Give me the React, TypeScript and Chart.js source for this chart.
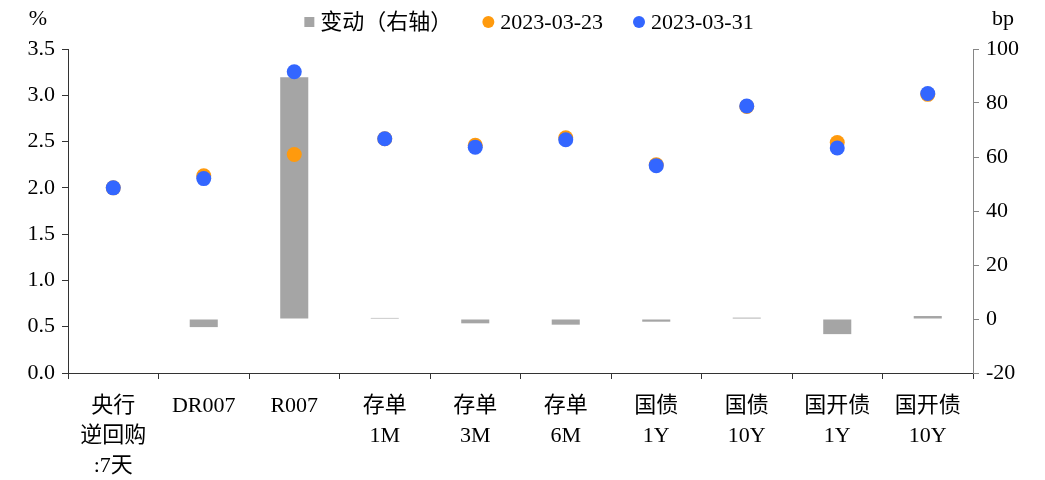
import React, { useEffect, useRef } from "react";
import { Chart, registerables } from "chart.js";

Chart.register(...registerables);

const categories: string[][] = [
  ["央行", "逆回购", ":7天"],
  ["DR007"],
  ["R007"],
  ["存单", "1M"],
  ["存单", "3M"],
  ["存单", "6M"],
  ["国债", "1Y"],
  ["国债", "10Y"],
  ["国开债", "1Y"],
  ["国开债", "10Y"],
];
const changeBp: number[] = [0, -3, 89.5, 0.4, -1.6, -2.1, -1, 0.5, -5.6, 1.1];
const rate0323: number[] = [2.0, 2.13, 2.36, 2.53, 2.46, 2.54, 2.25, 2.88, 2.49, 3.01];
const rate0331: number[] = [2.0, 2.1, 3.255, 2.53, 2.44, 2.52, 2.24, 2.885, 2.43, 3.02];
const leftTicks: number[] = [0, 0.5, 1, 1.5, 2, 2.5, 3, 3.5];
const rightTicks: number[] = [-20, 0, 20, 40, 60, 80, 100];

const FONT = "'Liberation Serif', 'Noto Sans CJK SC', serif";
const FS = 22;

const unitTitles = {
  id: "unitTitles",
  afterDraw(chart: any) {
    const ctx = chart.ctx;
    const y = chart.scales.y;
    const y1 = chart.scales.y1;
    ctx.save();
    ctx.fillStyle = "#000";
    ctx.font = `${FS}px ${FONT}`;
    ctx.textAlign = "center";
    ctx.textBaseline = "middle";
    ctx.fillText("%", y.right - 30, 19);
    ctx.fillText("bp", y1.left + 30, 19);
    ctx.restore();
  },
};

const topLegend = {
  id: "topLegend",
  afterDraw(chart: any) {
    const ctx = chart.ctx;
    const ds = chart.data.datasets;
    ctx.save();
    ctx.font = `${FS}px ${FONT}`;
    ctx.textBaseline = "middle";
    ctx.textAlign = "left";
    const items = ds.map((d: any) => {
      const isBar = d.type === "bar";
      const mw = isBar ? 10 : 12;
      const tw = ctx.measureText(d.label).width;
      return { d, isBar, mw, tw, w: mw + 6 + tw };
    });
    const gap = 30;
    const total = items.reduce((s: number, it: any) => s + it.w, 0) + gap * (items.length - 1);
    let x = 529 - total / 2;
    const cy = 22;
    for (const it of items) {
      ctx.fillStyle = it.d.backgroundColor;
      if (it.isBar) {
        ctx.fillRect(x, cy - 5, 10, 10);
      } else {
        ctx.beginPath();
        ctx.arc(x + 6, cy, 6, 0, Math.PI * 2);
        ctx.fill();
      }
      ctx.fillStyle = "#000";
      ctx.fillText(it.d.label, x + it.mw + 6, cy + 1);
      x += it.w + gap;
    }
    ctx.restore();
  },
};

export default function App() {
  const ref = useRef<HTMLCanvasElement>(null);
  useEffect(() => {
    document.body.style.margin = "0";
    const chart = new Chart(ref.current!, {
      type: "bar",
      data: {
        labels: categories,
        datasets: [
          {
            type: "bar",
            label: "变动（右轴）",
            data: changeBp,
            backgroundColor: "#A5A5A5",
            yAxisID: "y1",
            barPercentage: 0.31,
            categoryPercentage: 1,
            order: 3,
          } as any,
          {
            type: "line",
            label: "2023-03-23",
            data: rate0323,
            yAxisID: "y",
            showLine: false,
            pointRadius: 7.5,
            pointBorderWidth: 0,
            backgroundColor: "#FF9A0D",
            borderColor: "#FF9A0D",
            pointStyle: "circle",
            order: 2,
          },
          {
            type: "line",
            label: "2023-03-31",
            data: rate0331,
            yAxisID: "y",
            showLine: false,
            pointRadius: 7.5,
            pointBorderWidth: 0,
            backgroundColor: "#3366FF",
            borderColor: "#3366FF",
            pointStyle: "circle",
            order: 1,
          },
        ],
      },
      options: {
        animation: false,
        responsive: false,
        maintainAspectRatio: false,
        layout: { padding: { left: 0, right: 0, top: 49, bottom: 0 } },
        plugins: {
          tooltip: { enabled: false },
          legend: { display: false },
        },
        scales: {
          x: {
            offset: true,
            grid: {
              display: true,
              drawOnChartArea: false,
              drawTicks: true,
              tickLength: 6,
              offset: true,
              color: "#333",
            },
            border: { display: true, color: "#333", width: 1 },
            ticks: {
              color: "#000",
              font: { family: FONT, size: FS, lineHeight: 1.36 },
              maxRotation: 0,
              autoSkip: false,
              padding: 12,
            },
            afterFit: (s: any) => {
              s.height = 107;
            },
          },
          y: {
            position: "left",
            min: 0,
            max: 3.5,
            afterBuildTicks: (s: any) => {
              s.ticks = leftTicks.map((v) => ({ value: v }));
            },
            grid: {
              display: true,
              drawOnChartArea: false,
              drawTicks: true,
              tickLength: 6,
              color: "#333",
            },
            border: { display: true, color: "#333", width: 1 },
            ticks: {
              color: "#000",
              font: { family: FONT, size: FS },
              padding: 7,
              callback: (v: any) => Number(v).toFixed(1),
            },
            afterFit: (s: any) => {
              s.width = 68;
            },
          },
          y1: {
            position: "right",
            min: -20,
            max: 100,
            afterBuildTicks: (s: any) => {
              s.ticks = rightTicks.map((v) => ({ value: v }));
            },
            grid: {
              display: true,
              drawOnChartArea: false,
              drawTicks: true,
              tickLength: 6,
              color: "#868686",
            },
            border: { display: true, color: "#868686", width: 1 },
            ticks: {
              color: "#000",
              font: { family: FONT, size: FS },
              padding: 7,
            },
            afterFit: (s: any) => {
              s.width = 72;
            },
          },
        },
      },
      plugins: [unitTitles, topLegend],
    });
    return () => chart.destroy();
  }, []);
  return (
    <div style={{ position: "absolute", left: 0, top: 0, width: 1045, height: 480 }}>
      <canvas ref={ref} width={1045} height={480} style={{ width: 1045, height: 480 }} />
    </div>
  );
}
